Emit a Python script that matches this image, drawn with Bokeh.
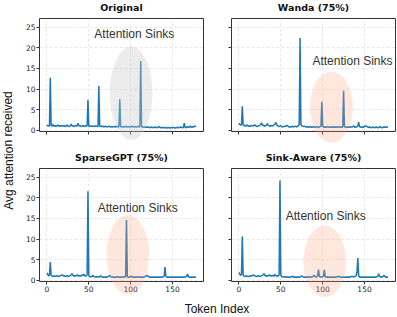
from bokeh.plotting import figure
from bokeh.models import Range1d, FixedTicker, Label
from bokeh.core.properties import value
from bokeh.layouts import row, column
from bokeh.embed import file_html
from bokeh.resources import INLINE

titles = ["Original", "Wanda (75%)", "SparseGPT (75%)", "Sink-Aware (75%)"]

original = [1.3, 1.0, 1.1, 1.0, 12.7, 1.2, 1.0, 1.4, 1.1, 1.0, 1.2, 0.9, 1.1, 1.3, 1.0, 1.1, 0.9, 1.2, 1.0, 1.1,
            1.0, 1.2, 0.9, 1.0, 1.3, 1.1, 1.0, 0.9, 1.1, 1.5, 1.0, 1.1, 0.9, 1.0, 1.2, 1.1, 1.0, 1.7, 1.2, 1.0,
            1.1, 0.9, 1.0, 1.2, 1.0, 0.9, 1.1, 1.0, 1.1, 7.4, 1.0, 0.9, 1.0, 1.1, 0.9, 1.0, 1.0, 0.9, 1.1, 1.0,
            0.9, 1.0, 10.7, 1.0, 0.9, 1.0, 0.9, 1.0, 0.8, 0.9, 1.0, 0.9, 0.8, 0.9, 1.0, 0.9, 0.8, 0.9, 0.8, 0.9,
            0.9, 0.8, 0.9, 1.0, 0.8, 0.9, 0.8, 7.5, 0.9, 0.8, 0.9, 0.8, 0.9, 0.8, 1.0, 0.9, 0.8, 0.9, 0.8, 0.9,
            0.8, 0.9, 1.0, 0.8, 0.9, 0.8, 0.9, 0.8, 0.9, 1.0, 0.8, 0.9, 16.8, 0.9, 0.8, 0.7, 0.8, 0.9, 0.7, 0.8,
            0.7, 0.8, 0.7, 0.6, 0.7, 0.8, 0.7, 0.6, 0.7, 0.8, 0.7, 0.6, 0.7, 0.8, 0.9, 0.7, 0.6, 0.7, 0.6, 0.7,
            0.6, 0.7, 0.6, 0.5, 0.6, 0.7, 0.6, 0.5, 0.6, 0.7, 0.6, 0.7, 0.6, 0.5, 0.6, 0.7, 0.6, 0.7, 0.6, 0.7,
            0.8, 0.7, 0.6, 0.7, 1.7, 0.7, 0.6, 0.8, 0.9, 0.7, 0.8, 1.0, 0.8, 0.7, 0.9, 0.8, 1.0, 0.9, 1.1]

wanda = [1.7, 1.4, 1.3, 1.2, 5.8, 1.5, 1.1, 1.2, 1.0, 1.1, 1.3, 1.0, 1.1, 0.9, 1.0, 1.2, 1.1, 1.0, 1.2, 1.3,
         1.1, 1.0, 0.9, 1.0, 1.1, 1.2, 1.4, 1.8, 1.3, 1.1, 1.2, 1.0, 1.1, 1.3, 1.6, 1.2, 1.1, 1.0, 1.2, 1.1,
         1.0, 1.2, 1.3, 1.5, 1.9, 1.4, 1.1, 1.0, 0.9, 1.0, 1.1, 0.9, 0.8, 0.9, 1.0, 0.9, 1.0, 1.2, 1.1, 0.9,
         0.8, 0.9, 0.8, 0.9, 1.0, 0.8, 0.9, 1.0, 0.9, 0.8, 1.0, 1.1, 1.4, 22.4, 1.5, 1.1, 1.0, 0.9, 1.0, 0.9,
         0.8, 0.9, 0.8, 0.7, 0.8, 0.9, 0.8, 0.7, 0.8, 0.9, 0.8, 0.7, 0.8, 0.9, 0.8, 0.7, 0.8, 0.9, 1.0, 6.9,
         1.0, 0.8, 0.7, 0.8, 0.7, 0.8, 0.9, 0.8, 0.7, 0.8, 0.7, 0.8, 0.9, 0.7, 0.8, 0.7, 0.8, 0.7, 0.8, 0.9,
         0.8, 0.7, 0.8, 0.7, 0.9, 9.6, 0.9, 0.8, 0.7, 0.8, 0.7, 0.8, 0.7, 0.8, 0.9, 0.8, 0.9, 1.1, 0.8, 0.7,
         0.8, 0.9, 1.0, 2.0, 0.9, 0.8, 0.7, 0.8, 0.7, 0.8, 1.0, 0.9, 1.1, 0.9, 0.8, 0.7, 0.8, 0.7, 0.6, 0.7,
         0.8, 0.7, 0.6, 0.7, 0.8, 0.7, 0.6, 0.7, 0.8, 0.9, 0.7, 0.6, 0.7, 0.8, 0.7, 0.8, 0.7, 0.8, 0.9]

sparsegpt = [1.8, 1.4, 1.1, 1.2, 4.4, 1.3, 1.0, 0.9, 1.0, 1.1, 0.9, 1.0, 1.1, 1.0, 0.9, 1.0, 1.1, 1.2, 1.3, 1.2,
             1.0, 1.1, 0.9, 1.0, 1.1, 1.0, 0.9, 1.1, 1.2, 1.3, 1.6, 1.2, 1.0, 1.1, 1.0, 1.2, 1.3, 1.1, 1.0, 1.2,
             1.1, 1.0, 1.3, 1.1, 1.5, 1.2, 1.0, 1.1, 1.3, 21.6, 1.2, 0.9, 0.8, 1.0, 0.9, 1.2, 0.9, 0.8, 0.9, 0.8,
             0.9, 0.8, 0.9, 0.8, 1.1, 0.9, 0.8, 0.7, 0.8, 0.7, 0.8, 0.7, 0.8, 0.9, 1.0, 1.2, 0.9, 0.8, 0.7, 0.8,
             0.7, 0.8, 0.7, 0.8, 0.9, 0.8, 0.7, 0.8, 0.7, 0.8, 0.7, 0.8, 0.9, 0.8, 0.9, 14.6, 0.9, 0.8, 0.7, 0.8,
             0.9, 1.0, 0.8, 0.7, 0.8, 0.7, 0.8, 0.7, 0.8, 0.9, 0.8, 0.7, 0.8, 0.7, 0.8, 0.7, 0.8, 0.9, 1.0, 1.1,
             1.2, 0.9, 0.8, 0.7, 0.8, 0.7, 0.8, 0.7, 0.8, 0.7, 0.8, 0.7, 0.8, 0.7, 0.8, 0.7, 0.8, 0.7, 0.8, 0.9,
             1.0, 3.2, 1.0, 0.8, 0.7, 0.8, 0.7, 0.8, 0.7, 0.8, 0.7, 0.8, 0.7, 0.8, 0.7, 0.8, 0.7, 0.8, 0.7, 0.8,
             0.7, 0.8, 0.7, 0.8, 0.7, 0.8, 0.9, 1.0, 1.5, 0.9, 0.7, 0.8, 0.7, 0.8, 0.7, 0.8, 0.7, 0.8, 0.7]

sink_aware = [1.9, 1.5, 1.2, 1.3, 10.6, 1.4, 1.0, 0.9, 1.0, 1.1, 0.9, 1.0, 0.9, 1.0, 1.1, 1.0, 1.1, 1.3, 1.2, 1.1,
              1.0, 0.9, 1.0, 1.1, 1.0, 0.9, 1.0, 1.1, 1.2, 1.4, 1.6, 1.2, 1.0, 1.1, 1.0, 1.1, 1.3, 1.2, 1.0, 1.1,
              1.2, 1.0, 1.1, 1.4, 1.2, 1.0, 1.1, 1.0, 1.3, 24.2, 1.3, 0.9, 0.8, 0.9, 0.8, 0.9, 0.8, 0.7, 0.8, 0.7,
              0.8, 0.7, 0.8, 0.9, 1.0, 0.8, 0.7, 0.8, 0.7, 0.8, 0.7, 0.8, 0.7, 0.8, 0.9, 1.1, 0.9, 0.8, 0.7, 0.8,
              0.7, 0.8, 0.7, 0.8, 0.9, 0.8, 0.7, 0.8, 0.9, 1.0, 1.2, 0.9, 0.8, 0.9, 1.1, 2.6, 1.0, 0.8, 0.9, 0.8,
              0.9, 1.0, 2.5, 0.9, 0.8, 0.7, 0.8, 0.7, 0.8, 0.7, 0.8, 0.7, 0.8, 0.7, 0.8, 0.7, 0.8, 0.9, 0.8, 1.0,
              0.9, 0.8, 0.7, 0.8, 0.7, 0.8, 0.7, 0.8, 0.7, 0.8, 0.7, 0.8, 0.7, 0.8, 0.9, 1.0, 0.9, 0.8, 0.9, 1.0,
              1.1, 2.0, 5.4, 1.1, 0.8, 0.7, 0.8, 0.7, 0.8, 0.7, 0.8, 0.7, 0.8, 0.7, 0.8, 0.7, 0.8, 0.7, 0.8, 0.7,
              0.8, 0.7, 0.8, 0.7, 0.8, 0.9, 1.0, 1.6, 1.0, 0.8, 0.7, 0.8, 0.9, 1.2, 1.0, 0.8, 0.7, 0.8, 0.7]

series = [original, wanda, sparsegpt, sink_aware]

# annotation positions (data units)
sink_text_x = [104.4, 135.6, 108.4, 103.7]
sink_text_y = [23.4, 16.7, 17.6, 15.6]
ell_x = [100.6, 110.5, 96.6, 102.4]
ell_y = [9.0, 5.6, 6.2, 4.6]
ell_w = [51, 51, 51, 51]
ell_h = [22.7, 17.3, 19.2, 17.3]
ell_color = ["#c8c8c8", "lightsalmon", "lightsalmon", "lightsalmon"]
ell_alpha = [0.35, 0.25, 0.25, 0.25]

x_ticks = [0, 50, 100, 150]
y_ticks = [0, 5, 10, 15, 20, 25]

XR = (-8.9, 187.0)
YR = (-0.3, 27.1)

LINE = "#1f77b4"
FONT = "Liberation Sans"


def make_panel(i):
    left = (i % 2 == 0)
    top = (i < 2)
    w = 197 if left else 179
    p = figure(width=w, height=150, output_backend="svg", toolbar_location=None,
               x_range=Range1d(*XR), y_range=Range1d(*YR),
               min_border_left=19 if left else 14, min_border_right=14 if left else 1,
               min_border_top=18, min_border_bottom=19)
    p.background_fill_color = "white"
    p.border_fill_color = "white"
    p.outline_line_color = "#333333"
    p.outline_line_width = 1
    p.xaxis.ticker = FixedTicker(ticks=x_ticks)
    p.yaxis.ticker = FixedTicker(ticks=y_ticks)
    for ax in (p.xaxis[0], p.yaxis[0]):
        ax.axis_line_color = None
        ax.major_tick_line_color = "#333333"
        ax.major_tick_out = 3
        ax.major_tick_in = 0
        ax.minor_tick_line_color = None
        ax.major_label_text_font = "DejaVu Sans"
        ax.major_label_text_font_size = "7.5px"
        ax.major_label_text_color = "#222222"
        ax.major_label_standoff = 1
    if top:
        p.xaxis.major_label_text_font_size = "0px"
        p.xaxis.major_label_text_alpha = 0
    if not left:
        p.yaxis.major_label_text_font_size = "0px"
        p.yaxis.major_label_text_alpha = 0
    p.grid.grid_line_color = "#e2e2e2"
    p.grid.grid_line_dash = "3 2"
    p.grid.grid_line_width = 0.8

    xs = list(range(len(series[i])))
    p.line(xs, series[i], line_color=LINE, line_width=1.5)
    p.ellipse(x=[ell_x[i]], y=[ell_y[i]], width=[ell_w[i]], height=[ell_h[i]],
              fill_color=ell_color[i], fill_alpha=ell_alpha[i], line_color=None, level="overlay")
    p.add_layout(Label(x=sink_text_x[i], y=sink_text_y[i], text="Attention Sinks",
                       text_font=FONT, text_font_size="12px", text_color="#333333",
                       text_align="center", text_baseline="middle"))
    p.text(x=[(XR[0] + XR[1]) / 2], y=[YR[1] + 2.75], text=[titles[i]],
           text_font=value("DejaVu Sans"), text_font_style="bold", text_font_size="9.5px",
           text_color="#111111", text_align="center", text_baseline="middle", level="overlay")
    return p


panels = [make_panel(i) for i in range(4)]

ylab = figure(width=20, height=300, output_backend="svg", toolbar_location=None,
              x_range=Range1d(0, 20), y_range=Range1d(0, 300), x_axis_type=None, y_axis_type=None,
              min_border=0)
ylab.outline_line_color = None
ylab.grid.visible = False
ylab.add_layout(Label(x=8, y=150, text="Avg attention received", angle=1.5708,
                      text_font=FONT, text_font_size="12px", text_color="#111111",
                      text_align="center", text_baseline="middle"))

xlab = figure(width=397, height=17, output_backend="svg", toolbar_location=None,
              x_range=Range1d(0, 397), y_range=Range1d(0, 17), x_axis_type=None, y_axis_type=None,
              min_border=0)
xlab.outline_line_color = None
xlab.grid.visible = False
xlab.add_layout(Label(x=216.5, y=9, text="Token Index",
                      text_font=FONT, text_font_size="12px", text_color="#111111",
                      text_align="center", text_baseline="middle"))

layout = column(row(ylab, column(row(panels[0], panels[1]), row(panels[2], panels[3]))), xlab)

open("out.html", "w").write(file_html(layout, INLINE))
